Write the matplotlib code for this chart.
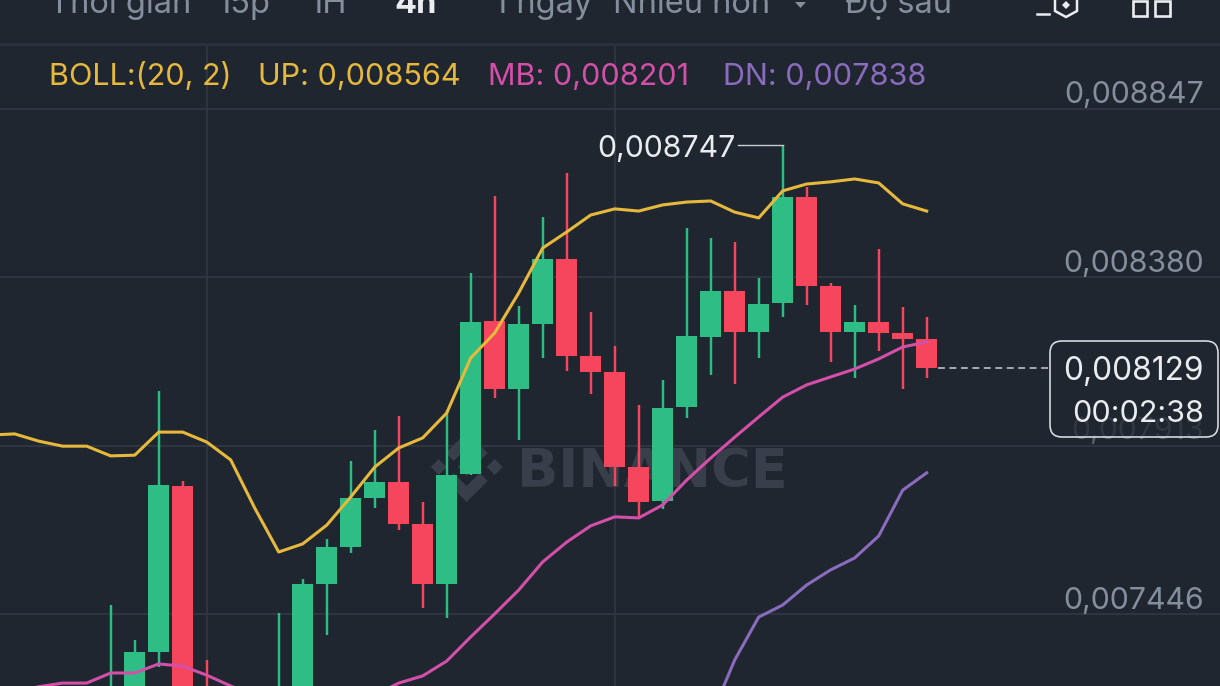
import matplotlib
matplotlib.use("Agg")
import matplotlib.pyplot as plt
from matplotlib.patches import FancyBboxPatch, Polygon, Rectangle

plt.rcParams['font.family'] = ['Inter', 'DejaVu Sans']

# all prices below are in units of 1e-6
# candles sit on slots 5..39, values hidden below the crop are rough guesses
opens = [7120, 7160, 7341, 7801.5, 7200, 7150, 7100, 7060, 7200, 7530, 7632, 7768, 7813, 7696, 7530, 7835,
         8259, 8070.5, 8251, 8431, 8162, 8118, 7854, 7760, 8021, 8215, 8342, 8229, 8309, 8603, 8356, 8229,
         8256, 8226, 8209]
closes = [7180, 7341, 7804, 7150, 7150, 7100, 7060, 7200, 7530, 7632, 7768, 7813, 7696, 7530, 7832, 8256,
          8070.5, 8251, 8431, 8162, 8118, 7854, 7757, 8018, 8217.5, 8342, 8229, 8306, 8603, 8356, 8229, 8256,
          8226, 8209, 8129]
highs = [7471.5, 7374, 8065, 7815, 7319, 7200, 7180, 7449, 7544, 7654.5, 7871, 7957, 7996, 7757, 8012, 8392,
         8606, 8301, 8548, 8670, 8284, 8190, 8026, 8095.5, 8517, 8489, 8478, 8378, 8747, 8631, 8364.5, 8303.5,
         8459, 8298, 8270]
lows = [7100, 7140, 7300, 7120, 7120, 7080, 7050, 7040, 7180, 7388, 7616, 7740.5, 7679.5, 7463, 7435, 7832,
        8045.5, 7929, 8156.5, 8120, 8057, 7801.5, 7713, 7738, 7990, 8109, 8084, 8156.5, 8270, 8303.5, 8145,
        8101, 8176, 8070.5, 8101]

# Bollinger bands, slots 0..39
boll_up = [7943, 7946, 7926, 7912, 7912, 7885, 7887, 7951, 7951, 7923.5, 7874, 7740.5, 7618.5, 7641, 7693,
           7771, 7854, 7907, 7935, 8004, 8156.5, 8226, 8337, 8461.5, 8506, 8553, 8570, 8564, 8581, 8589, 8592,
           8561, 8545, 8620, 8639, 8645, 8653, 8642, 8584, 8564]
boll_mb = [7210, 7230, 7245, 7255, 7255, 7283, 7283, 7308, 7302, 7277, 7247, 7222, 7208, 7203, 7203, 7208,
           7222, 7255, 7275, 7316, 7383, 7447, 7513, 7591, 7646, 7691, 7716, 7713, 7749, 7818, 7879, 7937,
           7993, 8048, 8082, 8104, 8126, 8154, 8187, 8201]
boll_dn = [7161, 7319, 7438, 7471.5, 7527, 7569, 7602, 7663, 7790, 7838]

price_ticks = [8847, 8380, 7913, 7446]
grid_slots = [9, 26]
last_price = 8129
high_price = 8747
header_labels = ["Thời gian", "15p", "1H", "4h", "1 ngày", "Nhiều hơn", "Độ sâu"]
legend_labels = ["BOLL:(20, 2)", "UP: 0,008564", "MB: 0,008201", "DN: 0,007838"]

BG = '#1f2630'
GRID = '#333a46'
GREEN = '#2ebd85'
RED = '#f6465d'
YELLOW = '#e6b93c'
PINK = '#d34fa8'
PURPLE = '#8a6bbd'
GREY = '#848e9c'
WHITE = '#eaecef'


def px_slot(x):
    return (x + 10) / 24


fig = plt.figure(figsize=(12.2, 6.86), dpi=100, facecolor=BG)
ax = fig.add_axes([0, 0, 1, 1], facecolor=BG)
ax.set_xlim(px_slot(-0.7), px_slot(1219.3))
ax.set_ylim(7246.9, 9149.3)
ax.axis('off')

# overlay in pixel coordinates for the interface bits
ui = fig.add_axes([0, 0, 1, 1], facecolor='none', zorder=5)
ui.set_xlim(0, 1220)
ui.set_ylim(686, 0)
ui.axis('off')

# grid
for p in price_ticks:
    ax.axhline(p, color=GRID, lw=1.1, zorder=1)
for s in grid_slots:
    ax.axvline(s, ymax=1 - 44 / 686, color=GRID, lw=1.1, zorder=1)
ax.axhline(9149.3 - 44 * 2.7732, color='#2b323d', lw=2.2, zorder=1)

# watermark under the candles
ax.text(px_slot(516), 8847 - (487 - 109) * 2.7732, "BINANCE", color='#383f4a', fontsize=39, fontweight='bold',
        family='DejaVu Sans', zorder=1.5, ha='left', va='baseline')
cx, cy = 466, 467
chevron = [(0, -35), (21, -14), (13, -6), (0, -19), (-13, -6), (-21, -14)]
shapes = [chevron, [(a, -b) for a, b in chevron],
          [(0, -9), (9, 0), (0, 9), (-9, 0)],
          [(-28, -8), (-20, 0), (-28, 8), (-36, 0)],
          [(28, -8), (36, 0), (28, 8), (20, 0)]]
for shape in shapes:
    pts = [(px_slot(cx + a), 8847 - (cy + b - 109) * 2.7732) for a, b in shape]
    ax.add_patch(Polygon(pts, closed=True, color='#383f4a', lw=0, zorder=1.5))

# candles
slots = list(range(5, 40))
colors = [GREEN if c >= o else RED for o, c in zip(opens, closes)]
ax.vlines(slots, lows, highs, colors=colors, lw=1.75, zorder=2)
ax.bar(slots, [abs(c - o) for o, c in zip(opens, closes)], bottom=[min(o, c) for o, c in zip(opens, closes)],
       width=0.875, color=colors, zorder=3)

# bands
ax.plot(range(40), boll_up, color=YELLOW, lw=2.2, zorder=4, solid_joinstyle='round')
ax.plot(range(40), boll_mb, color=PINK, lw=2.2, zorder=4, solid_joinstyle='round')
ax.plot(range(30, 40), boll_dn, color=PURPLE, lw=2.2, zorder=4, solid_joinstyle='round')

# high marker and last price line
ax.plot([px_slot(737), 33], [high_price, high_price], color='#c9ced4', lw=1.0, zorder=4)
ax.plot([px_slot(937), px_slot(1050)], [last_price, last_price], color='#c9ced4', lw=1.1,
        dashes=(4.5, 3), zorder=4)

# header
header_x = [49, 217, 309, 394, 494, 613, 845]
for x, s in zip(header_x, header_labels):
    is_active = s == "4h"
    ui.text(x, 13, s, color=WHITE if is_active else GREY, fontsize=23.5, ha='left', va='baseline',
            fontweight='bold' if is_active else 'normal', clip_on=True)
ui.add_patch(Polygon([(795, 2), (806, 2), (800.5, 8)], closed=True, color=GREY, lw=0))

# toolbar icons
ui.plot([1037, 1049], [14, 14], color=WHITE, lw=1.8)
ui.add_patch(Polygon([(1055, -4), (1055, 11), (1066, 17), (1077, 11), (1077, -4)], closed=True, fill=False,
                     edgecolor=WHITE, lw=1.8))
ui.add_patch(Polygon([(1066, 1), (1070, 5), (1066, 9), (1062, 5)], closed=True, color=WHITE, lw=0))
ui.add_patch(Rectangle((1133, 1), 14, 15, fill=False, edgecolor=WHITE, lw=1.9))
ui.add_patch(Rectangle((1155, 1), 15, 15, fill=False, edgecolor=WHITE, lw=1.9))

# legend line
legend_x = [49, 258, 488, 723]
legend_colors = [YELLOW, YELLOW, PINK, PURPLE]
for x, s, c in zip(legend_x, legend_labels, legend_colors):
    ui.text(x, 85, s, color=c, fontsize=22, ha='left', va='baseline')

# price labels
for p, y in zip(price_ticks, [103, 272, 439, 609]):
    ui.text(1204, y, f"0,00{p}", color=GREY if p != 7913 else '#5a616c', fontsize=21.8, ha='right', va='baseline')
ui.text(736, 157, f"0,00{high_price}", color=WHITE, fontsize=21.8, ha='right', va='baseline')

# last price box
ui.add_patch(FancyBboxPatch((1050, 341), 168, 96, boxstyle='round,pad=0,rounding_size=12', lw=1.2,
                            edgecolor='#d5d8dc', facecolor=(0.122, 0.149, 0.188, 0.7), zorder=6))
ui.text(1204, 380, f"0,00{last_price}", color=WHITE, fontsize=22.8, ha='right', va='baseline', zorder=7)
ui.text(1204, 422, "00:02:38", color=WHITE, fontsize=22, ha='right', va='baseline', zorder=7)

fig.savefig('out.png', dpi=100, facecolor=BG)
